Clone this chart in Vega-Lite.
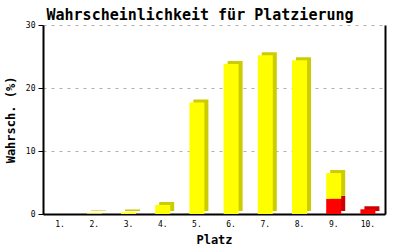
{
  "$schema": "https://vega.github.io/schema/vega-lite/v6.json",
  "width": 342,
  "height": 189,
  "autosize": {"type": "none"},
  "padding": {"left": 43, "top": 25, "right": 15, "bottom": 36},
  "background": "white",
  "title": {
    "text": "Wahrscheinlichkeit für Platzierung",
    "font": "DejaVu Sans Mono",
    "fontSize": 15,
    "fontWeight": "bold",
    "color": "black",
    "anchor": "middle",
    "dx": -14,
    "offset": 7,
    "dy": 9
  },
  "config": {"view": {"stroke": null}},
  "data": {
    "values": [
      {"platz": "1.", "teil": "gelb", "stufe": 2, "wert": 0},
      {"platz": "2.", "teil": "gelb", "stufe": 2, "wert": 0.1},
      {"platz": "3.", "teil": "gelb", "stufe": 2, "wert": 0.25},
      {"platz": "4.", "teil": "gelb", "stufe": 2, "wert": 1.43},
      {"platz": "5.", "teil": "gelb", "stufe": 2, "wert": 17.7},
      {"platz": "6.", "teil": "gelb", "stufe": 2, "wert": 23.8},
      {"platz": "7.", "teil": "gelb", "stufe": 2, "wert": 25.2},
      {"platz": "8.", "teil": "gelb", "stufe": 2, "wert": 24.4},
      {"platz": "9.", "teil": "rot", "stufe": 1, "wert": 2.4},
      {"platz": "9.", "teil": "gelb", "stufe": 2, "wert": 4.1},
      {"platz": "10.", "teil": "rot", "stufe": 1, "wert": 0.75}
    ]
  },
  "encoding": {
    "x": {
      "field": "platz",
      "type": "ordinal",
      "sort": null,
      "scale": {"paddingInner": 0, "paddingOuter": 0},
      "axis": {
        "title": "Platz",
        "labelAngle": 0,
        "labelFont": "DejaVu Sans Mono",
        "labelFontSize": 8,
        "labelColor": "black",
        "labelPadding": 6,
        "ticks": false,
        "domainColor": "black",
        "domainWidth": 2,
        "titleFont": "DejaVu Sans Mono",
        "titleFontSize": 12,
        "titleFontWeight": "bold",
        "titleColor": "black",
        "titlePadding": 6
      }
    },
    "order": {"field": "stufe"}
  },
  "layer": [
    {
      "mark": {"type": "bar", "size": 15, "xOffset": 4, "yOffset": -3},
      "encoding": {
        "y": {
          "field": "wert",
          "type": "quantitative",
          "stack": "zero",
          "scale": {"domain": [0, 30]},
          "axis": {
            "orient": "right",
            "title": null,
            "labels": false,
            "ticks": false,
            "grid": false,
            "domainColor": "black",
            "domainWidth": 2
          }
        },
        "color": {
          "field": "teil",
          "scale": {"domain": ["rot", "gelb"], "range": ["#cc0000", "#cccc00"]},
          "legend": null
        }
      }
    },
    {
      "mark": {"type": "bar", "size": 15},
      "encoding": {
        "y": {
          "field": "wert",
          "type": "quantitative",
          "stack": "zero",
          "scale": {"domain": [0, 30]},
          "axis": {
            "orient": "left",
            "values": [0, 10, 20, 30],
            "title": "Wahrsch. (%)",
            "labelFont": "DejaVu Sans Mono",
            "labelFontSize": 8,
            "labelColor": "black",
            "labelPadding": 3,
            "tickSize": 5,
            "tickColor": "black",
            "domainColor": "black",
            "domainWidth": 2,
            "grid": true,
            "gridColor": "#b0b0b0",
            "gridDash": [3, 5],
            "titleFont": "DejaVu Sans Mono",
            "titleFontSize": 12,
            "titleFontWeight": "bold",
            "titleColor": "black",
            "titlePadding": 8
          }
        },
        "color": {
          "field": "teil",
          "scale": {"domain": ["rot", "gelb"], "range": ["#ff0000", "#ffff00"]},
          "legend": null
        }
      }
    }
  ],
  "resolve": {"scale": {"color": "independent"}, "axis": {"y": "independent"}}
}
